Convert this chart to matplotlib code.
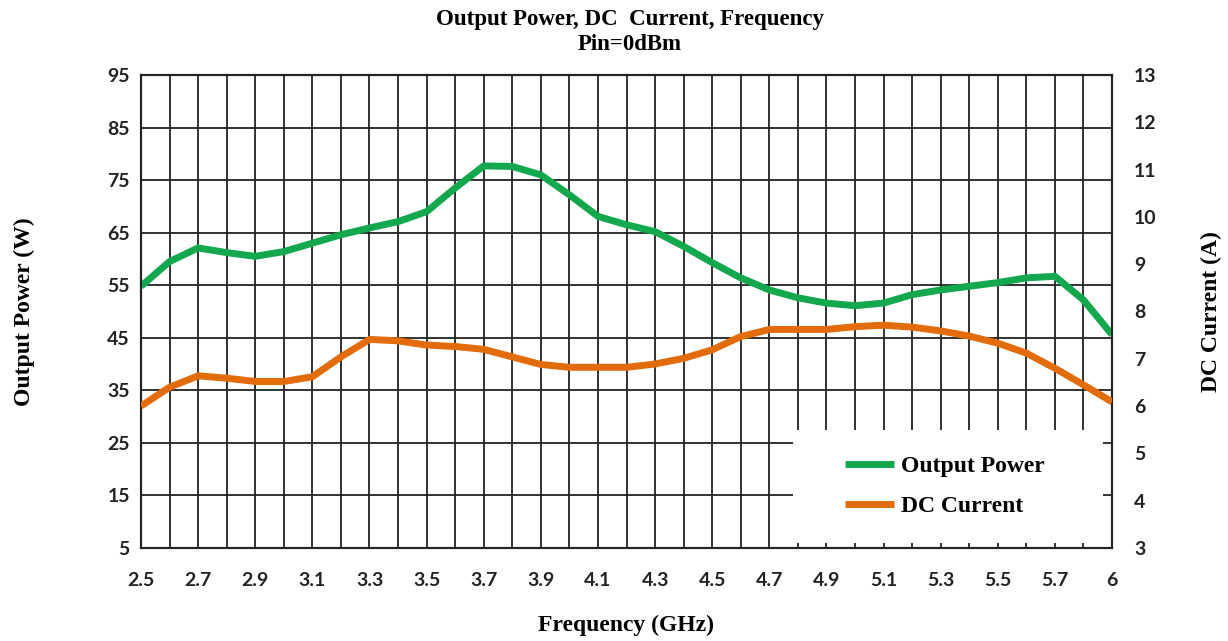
import numpy as np
import matplotlib
matplotlib.use("Agg")
import matplotlib.pyplot as plt
from matplotlib.patches import Rectangle

# Frequency categories (GHz)
freq = ["2.5", "2.6", "2.7", "2.8", "2.9", "3.0", "3.1", "3.2", "3.3", "3.4",
        "3.5", "3.6", "3.7", "3.8", "3.9", "4.0", "4.1", "4.2", "4.3", "4.4",
        "4.5", "4.6", "4.7", "4.8", "4.9", "5.0", "5.1", "5.2", "5.3", "5.4",
        "5.5", "5.6", "5.7", "5.8", "6"]

# Output power (W)
power = [54.8, 59.5, 62.1, 61.2, 60.5, 61.4, 63.0, 64.6, 65.9, 67.1,
         69.0, 73.5, 77.7, 77.6, 76.0, 72.2, 68.1, 66.5, 65.2, 62.4,
         59.3, 56.4, 54.1, 52.6, 51.6, 51.1, 51.6, 53.2, 54.1, 54.8,
         55.5, 56.4, 56.7, 52.2, 45.6]

# DC current (A)
current = [6.00, 6.40, 6.64, 6.59, 6.52, 6.52, 6.62, 7.04, 7.41, 7.38,
           7.29, 7.26, 7.20, 7.04, 6.88, 6.82, 6.82, 6.82, 6.89, 7.01,
           7.19, 7.47, 7.62, 7.62, 7.62, 7.68, 7.71, 7.67, 7.59, 7.48,
           7.33, 7.12, 6.80, 6.45, 6.09]

green = "#14A84E"
orange = "#E36C0A"
serif = "Liberation Serif"
sans = "Lato"

x = np.arange(len(freq))

fig = plt.figure(figsize=(12.28, 6.41), dpi=100)
ax = fig.add_axes([141 / 1228, 1 - 548 / 641, 971 / 1228, 473 / 641])
ax2 = ax.twinx()

# left axis: power
l1, = ax.plot(x, power, color=green, lw=5, solid_capstyle="butt",
              solid_joinstyle="round", zorder=4)
ax.set_xlim(0, len(freq) - 1)
ax.set_ylim(5, 95)
ax.set_yticks(np.arange(5, 96, 10))
ax.set_xticks(x)
ax.set_xticklabels([f if (i % 2 == 0) else "" for i, f in enumerate(freq)])
ax.grid(True, color="#222222", lw=1.3)
ax.tick_params(length=0, labelsize=14)
ax.tick_params(axis="x", pad=17)
ax.tick_params(axis="y", pad=8)
for lab in ax.get_xticklabels() + ax.get_yticklabels():
    lab.set_fontfamily(sans)
    lab.set_fontweight("bold")
    lab.set_color("#222222")

# right axis: current
l2, = ax2.plot(x, current, color=orange, lw=5, solid_capstyle="butt",
               solid_joinstyle="round", zorder=4)
ax2.set_ylim(3, 13)
ax2.set_yticks(np.arange(3, 14, 1))
ax2.tick_params(length=0, labelsize=14, pad=16)
for lab in ax2.get_yticklabels():
    lab.set_fontfamily(sans)
    lab.set_fontweight("bold")
    lab.set_color("#222222")

for a in (ax, ax2):
    for s in a.spines.values():
        s.set_linewidth(1.5)
        s.set_color("#222222")

# legend box (white, covers the grid)
ax.add_patch(Rectangle((0.671, 0.011), 0.32, 0.238, transform=ax.transAxes,
                       facecolor="white", edgecolor="none", zorder=3))
leg = ax.legend([l1, l2], ["Output Power", "DC Current"],
                loc="center left", bbox_to_anchor=(0.715, 0.13),
                frameon=False, handlelength=2.1, handletextpad=0.3,
                labelspacing=0.8, borderaxespad=0,
                prop={"family": serif, "weight": "bold", "size": 17})
leg.set_zorder(6)

ax.set_xlabel("Frequency (GHz)", family=serif, weight="bold", fontsize=17,
              labelpad=19)
ax.set_ylabel("Output Power (W)", family=serif, weight="bold", fontsize=17,
              labelpad=52)
ax2.set_ylabel("DC Current (A)", family=serif, weight="bold", fontsize=17,
               labelpad=32)

fig.text(0.513, 1 - 19 / 641, "Output Power, DC  Current, Frequency",
         ha="center", va="center", family=serif, weight="bold", fontsize=16.5)
fig.text(0.513, 1 - 45 / 641, "Pin=0dBm", ha="center", va="center",
         family=serif, weight="bold", fontsize=16.5)

fig.savefig("out.png", dpi=100, facecolor="white")
